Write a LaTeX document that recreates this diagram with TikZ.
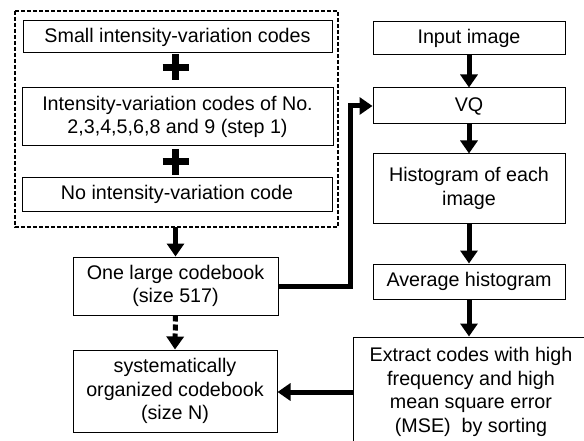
\documentclass[tikz,border=0pt]{standalone}
\usepackage{fontspec}
\setmainfont{Liberation Sans}
\usetikzlibrary{arrows.meta}
\tikzset{
	blk/.style={draw, line width=1pt, fill=white, align=center, inner sep=0pt,
		font=\fontsize{19.7}{23.5}\selectfont},
	arr/.style={line width=5pt, -{Triangle[width=17pt,length=13pt]}},
	plusbar/.style={line width=7pt}
}

\begin{document}
\begin{tikzpicture}[x=1pt, y=-1pt]
		%%%%% START %%%%%
		\useasboundingbox (0, 0) rectangle (584, 441);
		
		% codes that are merged
		\draw[line width=1.5pt, dash pattern=on 4pt off 2pt] (15, 11) rectangle (338, 227);
		\coordinate (grp) at (175.5, 227);
		
		\node[blk, minimum width=309, minimum height=32] (small) at (177.5, 37) {Small intensity-variation codes};
		\node[blk, minimum width=311, minimum height=58] (inten) at (177.5, 117) {Intensity-variation codes of No.\\2,3,4,5,6,8 and 9 (step 1)};
		\node[blk, minimum width=310, minimum height=33] (nocode) at (177, 194.5) {No intensity-variation code};
		
		\foreach \y in {67.5, 162} {
			\draw[plusbar] (162.5, \y) -- (188.5, \y);
			\draw[plusbar] (175.5, \y-13) -- (175.5, \y+13);
		}
		
		% codebooks
		\node[blk, minimum width=205, minimum height=58] (large) at (175.5, 286) {One large codebook\\(size 517)};
		\node[blk, minimum width=204, minimum height=82] (sys) at (175, 391) {systematically\\organized codebook\\(size N)};
		
		% right column
		\node[blk, minimum width=192, minimum height=33] (input) at (469, 38.5) {Input image};
		\node[blk, minimum width=192, minimum height=36] (vq) at (469, 106) {VQ};
		\node[blk, minimum width=192, minimum height=69] (hist) at (469, 188.5) {Histogram of each\\image};
		\node[blk, minimum width=192, minimum height=35] (avg) at (469, 281.5) {Average histogram};
		\node[blk, minimum width=236, minimum height=110] (extract) at (471, 392) {Extract codes with high\\frequency and high\\mean square error\\(MSE)\ \ by sorting};
		
		% arrows
		\draw[arr] (grp) -- (large.north);
		\draw[arr, dash pattern=on 6pt off 3pt] (large.south) -- (sys.north);
		\draw[arr] (large.east) -- ++(72, 0) |- (vq.west);
		\draw[arr] (input.south) -- (vq.north);
		\draw[arr] (vq.south) -- (hist.north);
		\draw[arr] (hist.south) -- (avg.north);
		\draw[arr] (avg.south) -- (avg.south |- extract.north);
		\draw[arr] (extract.west) -- (extract.west -| sys.east);
		
		%%%%% END %%%%%
	\end{tikzpicture}
\end{document}
